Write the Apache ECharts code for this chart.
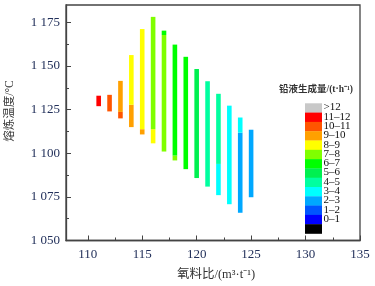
<!DOCTYPE html>
<html>
<head>
<meta charset="utf-8">
<script src="https://cdn.jsdelivr.net/npm/echarts@6/dist/echarts.min.js"></script>
<style>
html,body{margin:0;padding:0;background:#fff;}
#c{width:375px;height:286px;}
</style>
</head>
<body>
<div id="c"></div>
<script>
// ---- data ----
const xTicks = [110, 115, 120, 125, 130, 135];
const xMinorTicks = [112.5, 117.5, 122.5, 127.5, 132.5];
const yTicks = [1050, 1075, 1100, 1125, 1150, 1175];
const yMinorTicks = [1062.5, 1087.5, 1112.5, 1137.5, 1162.5];

const levelLabels = ['>12', '11–12', '10–11', '9–10', '8–9', '7–8', '6–7', '5–6', '4–5', '3–4', '2–3', '1–2', '0–1', ''];
const levelColors = ['#c8c8c8', '#ff0000', '#ff5500', '#ffa000', '#ffff00', '#80ff00', '#00ff00', '#00f050', '#00ffa0', '#00ffff', '#00a8ff', '#0055ff', '#0000ff', '#000000'];

// each segment: oxygen/material ratio, low temp, high temp, level index
const segX     = [111,  112,    113,    113,    114,    114,    115,    115,    116,    116,    117,    117,    118,    118,    119,    120,    121,    122,    122,    123,    124,    124,    125];
const segLow   = [1127, 1124,   1120,   1123.7, 1115,   1127.8, 1110.8, 1113.8, 1105.7, 1113.8, 1101,   1167.8, 1095.9, 1098.7, 1090.9, 1085.8, 1080.9, 1076,   1093.9, 1070.8, 1065.9, 1111.8, 1074.8];
const segHigh  = [1133, 1133.5, 1123.7, 1141.5, 1127.8, 1156.3, 1113.8, 1171.2, 1113.8, 1178.2, 1167.8, 1170.3, 1098.7, 1162.3, 1155.3, 1148.3, 1141.3, 1093.9, 1134.1, 1127.3, 1111.8, 1120.5, 1113.5];
const segLevel = [1,    2,      2,      3,      3,      4,      3,      4,      4,      5,      5,      6,      5,      6,      6,      7,      8,      9,      8,      9,      10,     9,      10];

const legendTitle = '铅液生成量/(t·h⁻¹)';
const xTitle = '氧料比/(m³·t⁻¹)';
const yTitle = '熔炼温度/°C';

// ---- chart ----
const serif = "'Liberation Serif','Times New Roman','Noto Sans CJK SC',serif";
const labelColor = '#22305a';
const lineColor = '#444';

const segData = segX.map((x, i) => [x, segLow[i], segHigh[i], segLevel[i]]);

const graphics = [];
const lgX = 305, lgY = 103.3, lgW = 17, lgH = 9.3;
levelColors.forEach((c, i) => {
  graphics.push({type: 'rect', shape: {x: lgX, y: lgY + i * lgH, width: lgW, height: lgH + 0.3}, style: {fill: c}, silent: true});
  if (levelLabels[i]) {
    graphics.push({type: 'text', x: lgX + lgW + 1.5, y: lgY + i * lgH + lgH / 2 - 0.5,
      style: {text: levelLabels[i], font: "11px " + serif, fill: '#111', align: 'left', verticalAlign: 'middle'}, silent: true});
  }
});
graphics.push({type: 'text', x: 316, y: 90, style: {text: legendTitle, font: "bold 9.5px " + serif, fill: '#333', align: 'center', verticalAlign: 'middle'}});
graphics.push({type: 'text', x: 10, y: 111, rotation: Math.PI / 2, style: {text: yTitle, font: "11.5px " + serif, fill: '#333', align: 'center', verticalAlign: 'middle'}});

const chart = echarts.init(document.getElementById('c'), null, {renderer: 'canvas'});
chart.setOption({
  animation: false,
  backgroundColor: '#fff',
  grid: {left: 66, top: 5, right: 15, bottom: 44, show: true, borderColor: lineColor, borderWidth: 1.3, containLabel: false},
  xAxis: [{
    type: 'value', min: 108, max: 135, position: 'bottom',
    axisLine: {lineStyle: {color: lineColor, width: 1.3}},
    axisTick: {inside: true, length: 5, customValues: xTicks, lineStyle: {color: lineColor}},
    axisLabel: {customValues: xTicks, color: labelColor, fontSize: 13, fontFamily: serif, margin: 8},
    splitLine: {show: false},
    name: xTitle, nameLocation: 'middle', nameGap: 28,
    nameTextStyle: {color: '#333', fontSize: 12.5, fontFamily: serif, padding: [0, 0, 0, 6]}
  }, {
    type: 'value', min: 108, max: 135, position: 'bottom',
    axisLine: {show: false},
    axisTick: {inside: true, length: 3, customValues: xMinorTicks, lineStyle: {color: lineColor}},
    axisLabel: {show: false},
    splitLine: {show: false}
  }],
  yAxis: [{
    type: 'value', min: 1050, max: 1185, interval: 25, position: 'left',
    axisLine: {show: true, lineStyle: {color: lineColor, width: 1.3}},
    axisTick: {show: true, inside: true, length: 5, customValues: yTicks, lineStyle: {color: lineColor}},
    axisLabel: {customValues: yTicks, color: labelColor, fontSize: 13, fontFamily: serif, margin: 6,
      formatter: v => { const s = String(v); return s.slice(0, 1) + ' ' + s.slice(1); }},
    splitLine: {show: false}
  }, {
    type: 'value', min: 1050, max: 1185, position: 'left',
    axisLine: {show: false},
    axisTick: {show: true, inside: true, length: 3, customValues: yMinorTicks, lineStyle: {color: lineColor}},
    axisLabel: {show: false},
    splitLine: {show: false}
  }],
  series: [{
    type: 'custom',
    xAxisIndex: 0, yAxisIndex: 0,
    data: segData,
    encode: {x: 0, y: [1, 2]},
    renderItem: function (params, api) {
      const x = api.value(0), lo = api.value(1), hi = api.value(2), lvl = api.value(3);
      const p1 = api.coord([x, hi]);
      const p2 = api.coord([x, lo]);
      return {type: 'rect', shape: {x: p1[0] - 2.3, y: p1[1], width: 4.6, height: p2[1] - p1[1]},
        style: {fill: levelColors[lvl]}};
    }
  }],
  graphic: graphics
});
</script>
</body>
</html>
